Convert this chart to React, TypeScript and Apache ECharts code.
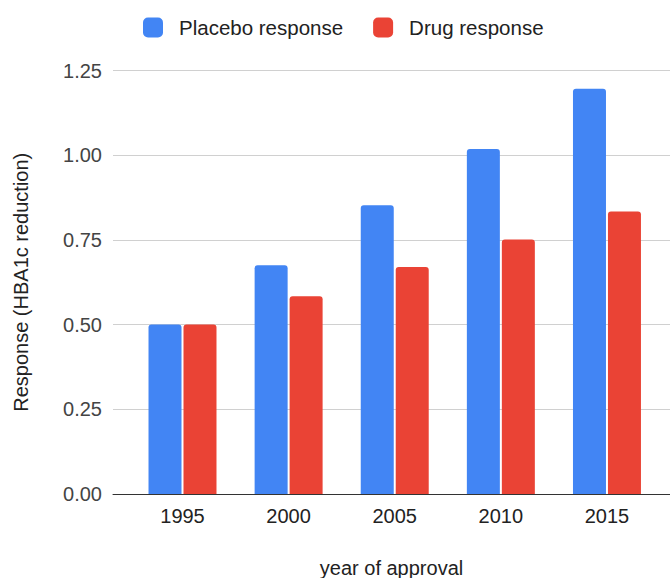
import React, { useEffect, useRef } from "react";
import * as echarts from "echarts";

const years = [1995, 2000, 2005, 2010, 2015];
const placebo = [0.5, 0.675, 0.852, 1.018, 1.196];
const drug = [0.5, 0.584, 0.67, 0.751, 0.834];

const FONT = "'Liberation Sans', Arial, sans-serif";
const FS = 20;

export default function App() {
  const ref = useRef<HTMLDivElement>(null);
  useEffect(() => {
    if (!ref.current) return;
    const chart = echarts.init(ref.current, undefined, { renderer: "svg" });
    chart.setOption({
      animation: false,
      textStyle: { fontFamily: FONT },
      legend: {
        top: 12,
        left: 138,
        itemWidth: 20,
        itemHeight: 20,
        itemGap: 30,
        icon: "roundRect",
        textStyle: { fontSize: 20.5, color: "#222", fontFamily: FONT, padding: [0, 0, 0, 11] },
        data: ["Placebo response", "Drug response"],
      },
      grid: { left: 113, right: 0, top: 70.5, bottom: 84, containLabel: false, outerBoundsMode: "none" },
      xAxis: {
        type: "value",
        min: 1991.725,
        max: 2017.97,
        name: "year of approval",
        nameLocation: "middle",
        nameGap: 64,
        nameTextStyle: { fontSize: FS, color: "#222", fontFamily: FONT },
        splitLine: { show: false },
        axisTick: { show: false },
        axisLine: { show: true, lineStyle: { color: "#333", width: 1 } },
        axisLabel: {
          customValues: years,
          formatter: (v: number) => String(v),
          fontSize: FS,
          color: "#222",
          margin: 12,
          fontFamily: FONT,
        },
      },
      yAxis: {
        type: "value",
        min: 0,
        max: 1.25,
        interval: 0.25,
        name: "Response (HBA1c reduction)",
        nameLocation: "middle",
        nameRotate: 90,
        nameGap: 82,
        nameTextStyle: { fontSize: FS, color: "#222", fontFamily: FONT },
        axisLine: { show: false },
        axisTick: { show: false },
        splitLine: { lineStyle: { color: "#d0d0d0", width: 1 } },
        axisLabel: {
          formatter: (v: number) => v.toFixed(2),
          fontSize: FS,
          color: "#444",
          margin: 11,
          fontFamily: FONT,
        },
      },
      series: [
        {
          name: "Placebo response",
          type: "bar",
          data: years.map((y, i) => [y, placebo[i]]),
          barWidth: 33,
          barGap: "6%",
          itemStyle: { color: "#4285F4", borderRadius: [3, 3, 0, 0] },
        },
        {
          name: "Drug response",
          type: "bar",
          data: years.map((y, i) => [y, drug[i]]),
          barWidth: 33,
          barGap: "6%",
          itemStyle: { color: "#EA4335", borderRadius: [3, 3, 0, 0] },
        },
      ],
    });
    return () => chart.dispose();
  }, []);
  return <div ref={ref} style={{ width: 670, height: 578, position: "absolute", left: 0, top: 0 }} />;
}
